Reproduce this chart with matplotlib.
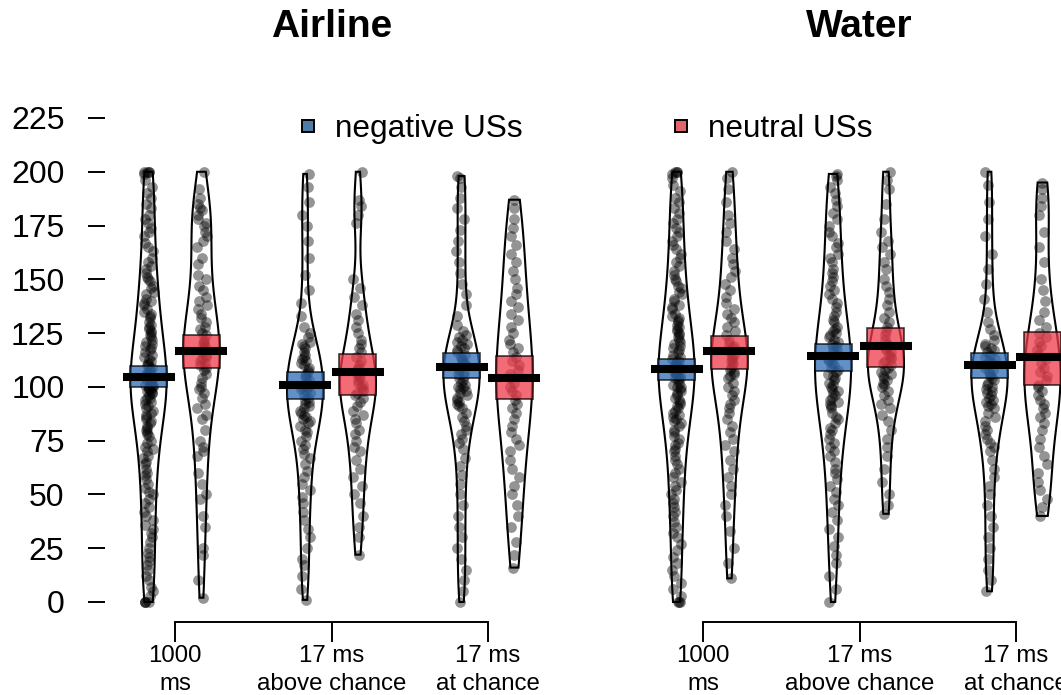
import numpy as np
import matplotlib
matplotlib.use("Agg")
import matplotlib.pyplot as plt
from matplotlib.patches import Rectangle
from matplotlib.lines import Line2D

plt.rcParams['font.family'] = ['Liberation Sans', 'DejaVu Sans']

# ---------------------------------------------------------------------------
# data
# ---------------------------------------------------------------------------
panels = ["Airline", "Water"]
conditions = ["1000\nms", "17 ms\nabove chance", "17 ms\nat chance"]
us_labels = ["negative USs", "neutral USs"]

# individual responses, Airline
airline_1000_neg = [200, 200, 200, 200, 199, 196, 193, 190, 188, 185, 183, 180, 178, 176, 174,
                    172, 170, 167, 165, 163, 160, 158, 156, 155, 153, 151, 150, 149, 147, 146,
                    144, 143, 141, 140, 139, 138, 136, 135, 134, 133, 132, 130, 129, 128, 127,
                    126, 125, 124, 123, 122, 121, 120, 119, 118, 117, 116, 115, 114, 113, 112,
                    111, 110, 110, 109, 108, 108, 107, 106, 106, 105, 105, 104, 104, 103, 103,
                    102, 102, 101, 101, 100, 100, 100, 99, 99, 98, 98, 97, 97, 96, 95, 95, 94,
                    93, 92, 91, 90, 89, 88, 87, 86, 85, 84, 83, 82, 81, 80, 79, 78, 77, 75, 74,
                    72, 71, 70, 68, 67, 65, 64, 62, 60, 59, 57, 55, 53, 51, 50, 48, 46, 44, 42,
                    40, 38, 36, 34, 32, 30, 28, 25, 23, 21, 19, 17, 15, 12, 10, 7, 5, 3, 0, 0, 0, 0]
airline_1000_neu = [200, 192, 188, 185, 183, 182, 180, 178, 176, 175, 172, 170, 168, 165, 160,
                    157, 152, 150, 147, 145, 142, 140, 138, 136, 134, 132, 130, 128, 127, 125,
                    124, 122, 121, 120, 119, 118, 117, 116, 115, 114, 113, 112, 111, 110, 109,
                    108, 106, 104, 102, 100, 99, 97, 95, 92, 90, 87, 85, 80, 75, 72, 70, 68,
                    60, 55, 50, 48, 40, 35, 25, 22, 10, 2]
airline_above_neg = [199, 193, 186, 180, 175, 168, 160, 152, 145, 139, 133, 128, 125, 123, 121,
                     120, 119, 118, 116, 115, 114, 113, 112, 111, 110, 109, 108, 107, 106, 105,
                     104, 103, 102, 101, 100, 100, 99, 98, 97, 96, 95, 94, 93, 92, 91, 90, 89,
                     88, 87, 86, 85, 84, 83, 82, 80, 79, 77, 75, 73, 71, 69, 67, 64, 61, 58, 55,
                     52, 49, 46, 42, 38, 34, 30, 25, 20, 17, 12, 6, 1]
airline_above_neu = [200, 187, 184, 180, 176, 150, 146, 142, 138, 134, 131, 128, 125, 122, 120,
                     118, 116, 114, 112, 110, 109, 108, 106, 105, 104, 103, 102, 101, 100, 99,
                     98, 97, 96, 95, 93, 91, 89, 87, 85, 83, 80, 78, 75, 72, 70, 66, 62, 58, 54,
                     50, 46, 40, 35, 30, 22]
airline_chance_neg = [198, 197, 193, 188, 183, 178, 173, 168, 163, 158, 153, 148, 143, 138, 133,
                      129, 126, 124, 123, 122, 121, 120, 119, 118, 117, 116, 115, 114, 113, 112,
                      111, 110, 109, 108, 107, 106, 105, 104, 103, 102, 101, 100, 100, 99, 98,
                      97, 96, 95, 94, 93, 92, 91, 90, 88, 86, 84, 82, 80, 78, 76, 74, 71, 67, 63,
                      59, 55, 50, 45, 40, 35, 30, 25, 20, 15, 10, 5, 0]
airline_chance_neu = [187, 183, 178, 174, 170, 166, 162, 158, 154, 150, 146, 143, 140, 137, 134,
                      131, 128, 125, 122, 120, 118, 116, 114, 112, 110, 108, 106, 104, 102, 100,
                      98, 96, 94, 92, 90, 88, 85, 82, 79, 76, 73, 70, 66, 62, 58, 54, 50, 45, 40,
                      35, 28, 22, 16]

# individual responses, Water
water_1000_neg = [200, 200, 200, 199, 197, 194, 191, 188, 186, 183, 181, 178, 176, 174, 172, 170,
                  168, 166, 164, 162, 160, 158, 156, 154, 152, 150, 149, 147, 146, 144, 143, 141,
                  140, 138, 137, 136, 134, 133, 132, 131, 130, 129, 128, 127, 126, 125, 124, 123,
                  122, 121, 120, 119, 118, 117, 116, 115, 114, 113, 112, 112, 111, 110, 110, 109,
                  109, 108, 108, 107, 107, 106, 106, 105, 105, 104, 104, 103, 102, 101, 100, 100,
                  99, 98, 97, 96, 95, 94, 93, 92, 91, 90, 89, 88, 87, 86, 85, 84, 83, 82, 80, 79,
                  77, 76, 74, 73, 71, 70, 68, 66, 64, 62, 60, 58, 56, 54, 52, 50, 48, 46, 44, 42,
                  40, 37, 35, 32, 30, 27, 24, 21, 18, 15, 12, 9, 6, 3, 0, 0, 0]
water_1000_neu = [200, 197, 192, 186, 180, 176, 172, 168, 164, 160, 157, 154, 151, 148, 145, 142,
                  139, 136, 134, 132, 130, 128, 126, 124, 122, 120, 119, 118, 117, 116, 115, 114,
                  113, 112, 111, 110, 109, 108, 107, 106, 105, 104, 102, 100, 98, 96, 94, 92, 90,
                  88, 85, 82, 79, 76, 73, 70, 66, 62, 58, 54, 50, 45, 40, 33, 25, 18, 11]
water_above_neg = [199, 198, 196, 193, 190, 187, 184, 181, 178, 175, 172, 170, 167, 165, 162, 160,
                   158, 155, 153, 151, 149, 147, 145, 143, 141, 139, 137, 135, 133, 131, 130, 128,
                   127, 126, 125, 124, 123, 122, 121, 120, 119, 118, 117, 116, 115, 114, 113, 112,
                   111, 110, 109, 108, 107, 106, 105, 104, 103, 102, 101, 100, 99, 98, 97, 96, 95,
                   94, 93, 92, 91, 90, 88, 86, 85, 83, 81, 80, 78, 76, 74, 72, 70, 68, 65, 62, 60,
                   57, 54, 51, 48, 45, 42, 38, 34, 30, 26, 22, 18, 12, 6, 0]
water_above_neu = [200, 196, 192, 185, 178, 172, 168, 165, 162, 158, 155, 150, 147, 144, 141, 138,
                   135, 132, 130, 128, 126, 124, 122, 120, 119, 118, 117, 116, 115, 114, 113, 112,
                   111, 110, 109, 108, 107, 106, 105, 104, 103, 102, 101, 100, 98, 96, 94, 92, 90,
                   87, 84, 80, 76, 72, 68, 62, 56, 50, 45, 41]
water_chance_neg = [200, 194, 186, 178, 170, 162, 155, 148, 141, 135, 130, 127, 124, 122, 120,
                    119, 118, 117, 116, 115, 114, 113, 112, 111, 110, 109, 108, 107, 106, 105,
                    104, 103, 102, 101, 100, 99, 98, 97, 96, 95, 94, 93, 92, 91, 90, 88, 86, 84,
                    82, 80, 78, 76, 74, 72, 70, 66, 62, 58, 54, 50, 45, 40, 35, 30, 25, 20, 15,
                    10, 5]
water_chance_neu = [195, 192, 188, 184, 180, 172, 165, 158, 150, 145, 140, 135, 131, 128, 125, 123,
                    121, 119, 117, 115, 113, 111, 109, 107, 105, 103, 101, 100, 98, 96, 94, 92, 90,
                    88, 86, 83, 80, 76, 72, 68, 64, 60, 56, 52, 48, 44, 40]

# means and inference bands (per condition)
airline_neg_mean = [104.7, 100.7, 109.4]
airline_neg_lo = [100.0, 94.2, 104.0]
airline_neg_hi = [109.7, 107.1, 115.6]
airline_neu_mean = [116.8, 106.8, 104.0]
airline_neu_lo = [108.9, 96.2, 94.2]
airline_neu_hi = [124.0, 115.1, 114.4]
water_neg_mean = [108.3, 114.4, 110.2]
water_neg_lo = [103.2, 107.5, 103.9]
water_neg_hi = [112.8, 119.8, 115.6]
water_neu_mean = [116.7, 119.0, 113.9]
water_neu_lo = [108.3, 109.1, 100.9]
water_neu_hi = [123.8, 127.2, 125.7]

y_ticks = [0, 25, 50, 75, 100, 125, 150, 175, 200, 225]

# ---------------------------------------------------------------------------
# styling
# ---------------------------------------------------------------------------
BOX_COLORS = ['#2F6DB5', '#EE3A4A']
LEGEND_COLORS = ['#4F7BAA', '#E0646C']
OFFSET = 0.169      # bean offset from group centre
BEAN_HALF = 0.115   # max bean half-width
BOX_HALF = 0.118
MEAN_HALF = 0.166
JIT = 0.033


def kde_bean(vals, n_grid=200):
    v = np.asarray(vals, dtype=float)
    n = len(v)
    q75, q25 = np.percentile(v, [75, 25])
    bw = 0.9 * min(v.std(ddof=1), (q75 - q25) / 1.34) * n ** -0.2
    grid = np.linspace(v.min(), v.max(), n_grid)
    dens = np.exp(-0.5 * ((grid[:, None] - v[None, :]) / bw) ** 2).sum(axis=1)
    return grid, dens / dens.max()


def draw_bean(ax, x, vals, mean, lo, hi, color):
    grid, d = kde_bean(vals)
    w = d * BEAN_HALF
    xs = np.concatenate([x - w, (x + w)[::-1]])
    ys = np.concatenate([grid, grid[::-1]])
    ax.fill(xs, ys, facecolor='white', edgecolor='black', lw=1.5, zorder=1)
    # deterministic horizontal jitter (hash of the point index)
    idx = np.arange(len(vals))
    frac = (np.sin(idx * 12.9898 + x * 78.233) * 43758.5453) % 1.0
    jitter = (frac - 0.5) * 2 * JIT
    ax.scatter(x + jitter, vals, s=60, color='black', alpha=0.42,
               linewidths=0, zorder=2, clip_on=False)
    ax.add_patch(Rectangle((x - BOX_HALF, lo), 2 * BOX_HALF, hi - lo,
                           facecolor=color, alpha=0.75, edgecolor='black',
                           lw=1.2, zorder=3))
    ax.plot([x - MEAN_HALF, x + MEAN_HALF], [mean, mean], color='black',
            lw=5.8, solid_capstyle='butt', zorder=4)


W, H = 1061, 695
fig = plt.figure(figsize=(W / 100, H / 100), dpi=100)

px_unit = 156.5
y_px = 484 / 225.0
y_lo, y_hi = -9.3, 235
ax_bottom = 73
ax_height = (y_hi - y_lo) * y_px

panel_data = [
    ([airline_1000_neg, airline_above_neg, airline_chance_neg],
     [airline_1000_neu, airline_above_neu, airline_chance_neu],
     (airline_neg_mean, airline_neg_lo, airline_neg_hi),
     (airline_neu_mean, airline_neu_lo, airline_neu_hi)),
    ([water_1000_neg, water_above_neg, water_chance_neg],
     [water_1000_neu, water_above_neu, water_chance_neu],
     (water_neg_mean, water_neg_lo, water_neg_hi),
     (water_neu_mean, water_neu_lo, water_neu_hi)),
]
# pixel extents of each panel and pixel position of its first group centre
panel_px = [(105, 560, 175), (620, 1100, 703)]

for p, (left, right, c1) in enumerate(panel_px):
    ax = fig.add_axes([left / W, ax_bottom / H, (right - left) / W, ax_height / H])
    ax.set_xlim(1 - (c1 - left) / px_unit, 1 + (right - c1) / px_unit)
    ax.set_ylim(y_lo, y_hi)
    neg_vals, neu_vals, neg_stats, neu_stats = panel_data[p]
    for g in range(3):
        xc = g + 1
        draw_bean(ax, xc - OFFSET, neg_vals[g], neg_stats[0][g], neg_stats[1][g],
                  neg_stats[2][g], BOX_COLORS[0])
        draw_bean(ax, xc + OFFSET, neu_vals[g], neu_stats[0][g], neu_stats[1][g],
                  neu_stats[2][g], BOX_COLORS[1])

    for s in ['top', 'right', 'left']:
        ax.spines[s].set_visible(False)
    ax.spines['bottom'].set_bounds(1, 3)
    ax.spines['bottom'].set_linewidth(1.4)
    ax.set_xticks([1, 2, 3])
    ax.set_xticklabels(conditions, fontsize=17.3, linespacing=1.32)
    ax.tick_params(axis='x', length=14.4, width=1.4, pad=2.5)
    if p == 0:
        ax.set_yticks(y_ticks)
        ax.set_yticklabels([str(t) for t in y_ticks], fontsize=23)
        ax.tick_params(axis='y', length=12.2, width=1.4, pad=17)
    else:
        ax.set_yticks([])
    ax.patch.set_visible(False)

    centre_px = c1 + px_unit
    fig.text(centre_px / W, 1 - 27 / H, panels[p], ha='center', va='center',
             fontsize=28, fontweight='bold')

handles = [Line2D([], [], marker='s', linestyle='None', markersize=9,
                  markerfacecolor=LEGEND_COLORS[i], markeredgecolor='black',
                  markeredgewidth=1.4) for i in range(2)]
fs = 22.7
fs_px = fs * 100 / 72
hl = 0.8
fig.legend(handles, us_labels, loc='center left', ncol=2, frameon=False,
           bbox_to_anchor=((308 - hl * fs_px / 2) / W, 1 - 129 / H),
           fontsize=fs, handlelength=hl, handletextpad=(335 - 308 - hl * fs_px / 2) / fs_px,
           columnspacing=(680 - hl * fs_px / 2 - 522) / fs_px,
           borderpad=0, borderaxespad=0)

fig.savefig("out.png", dpi=100)
